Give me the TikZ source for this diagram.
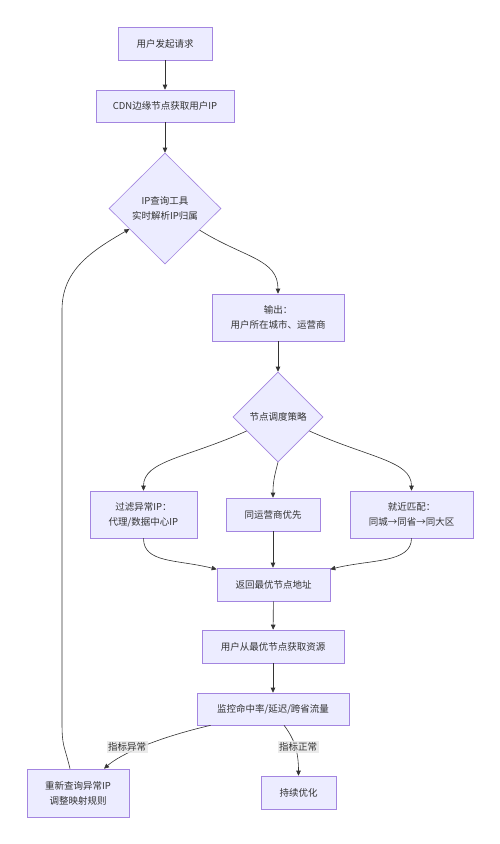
\documentclass[tikz,border=0pt]{standalone}
\usepackage{fontspec}
\setmainfont{Noto Sans CJK SC}
\usetikzlibrary{shapes.geometric,arrows.meta}
\definecolor{nodefill}{HTML}{ECECFF}
\definecolor{nodeline}{HTML}{9370DB}
\definecolor{edgeline}{HTML}{333333}
\definecolor{labelbg}{HTML}{E8E8E8}
\begin{document}
\begin{tikzpicture}[x=1pt,y=-1pt,
  txt/.style={text=edgeline,font=\fontsize{9.5pt}{15pt}\selectfont,align=center},
  box/.style={txt,draw=nodeline!85,fill=nodefill,line width=0.6pt,inner sep=0pt},
  dia/.style={txt,diamond,draw=nodeline!85,fill=nodefill,line width=0.6pt,inner sep=0pt},
  arr/.style={draw=edgeline,line width=0.6pt,-{Triangle[length=5pt,width=4.5pt]}},
  elabel/.style={txt,fill=labelbg,fill opacity=0.85,text opacity=1,inner sep=1.5pt}]
\useasboundingbox[fill=white] (0,0) rectangle (500,844);

\node[box,minimum width=94pt,minimum height=33pt] (start) at (165,43.5) {用户发起请求};
\node[box,minimum width=138pt,minimum height=32pt] (cdn) at (165,106) {CDN边缘节点获取用户IP};
\node[dia,minimum width=112pt,minimum height=111pt] (ipq) at (165,208.5) {IP查询工具\\实时解析IP归属};
\node[box,minimum width=132pt,minimum height=47pt] (out) at (278,317.5) {输出：\\用户所在城市、运营商};
\node[dia,minimum width=90pt,minimum height=90pt] (sched) at (278,417) {节点调度策略};
\node[box,minimum width=107pt,minimum height=47pt] (filt) at (143.5,514.5) {过滤异常IP：\\代理/数据中心IP};
\node[box,minimum width=94pt,minimum height=33pt] (isp) at (273,514.5) {同运营商优先};
\node[box,minimum width=123pt,minimum height=47pt] (near) at (411.5,514.5) {就近匹配：\\同城→同省→同大区};
\node[box,minimum width=113pt,minimum height=33pt] (ret) at (273.5,584.5) {返回最优节点地址};
\node[box,minimum width=142pt,minimum height=33pt] (fetch) at (273,646.5) {用户从最优节点获取资源};
\node[box,minimum width=152pt,minimum height=32pt] (mon) at (273,709) {监控命中率/延迟/跨省流量};
\node[box,minimum width=102pt,minimum height=48pt] (retry) at (78,793) {重新查询异常IP\\调整映射规则};
\node[box,minimum width=75pt,minimum height=33pt] (keep) at (298.5,792.5) {持续优化};

\coordinate (loopa) at (62,722);
\coordinate (loopb) at (62,310);

\draw[arr] (start) -- (cdn);
\draw[arr] (cdn) -- (ipq.north);
\draw[arr] (ipq.-32) .. controls +(45,28) and +(0,-35) .. (out.north);
\draw[arr] (out) -- (sched.north);
\draw[arr] (sched.-156) .. controls +(-60,27) and +(0,-30) .. (filt.north);
\draw[arr] (sched.south) .. controls +(-4,15) and +(0,-15) .. (isp.north);
\draw[arr] (sched.-24) .. controls +(60,27) and +(0,-30) .. (near.north);
\draw[arr] (filt.south) .. controls +(0,25) and +(-40,-10) .. (ret.165);
\draw[arr] (isp.south) -- (isp.south |- ret.north);
\draw[arr] (near.south) .. controls +(0,25) and +(40,-10) .. (ret.15);
\draw[arr] (ret) -- (fetch);
\draw[arr] (fetch) -- (mon);
\draw[arr] ([xshift=14pt]mon.south west) .. controls +(-56,13) and +(16,-14) .. ([xshift=26pt]retry.north);
\draw[arr] ([xshift=11pt]mon.south) .. controls +(10,13) and +(0,-25) .. (keep.north);
\draw[arr] ([xshift=-8pt]retry.north) .. controls +(-6,-25) and +(0,25) .. (loopa) -- (loopb) .. controls +(0,-40) and +(-38,22) .. (ipq.-150);

\node[elabel] (lab1) at (127,747) {指标异常};
\node[elabel] (lab2) at (298,747) {指标正常};
\end{tikzpicture}
\end{document}
